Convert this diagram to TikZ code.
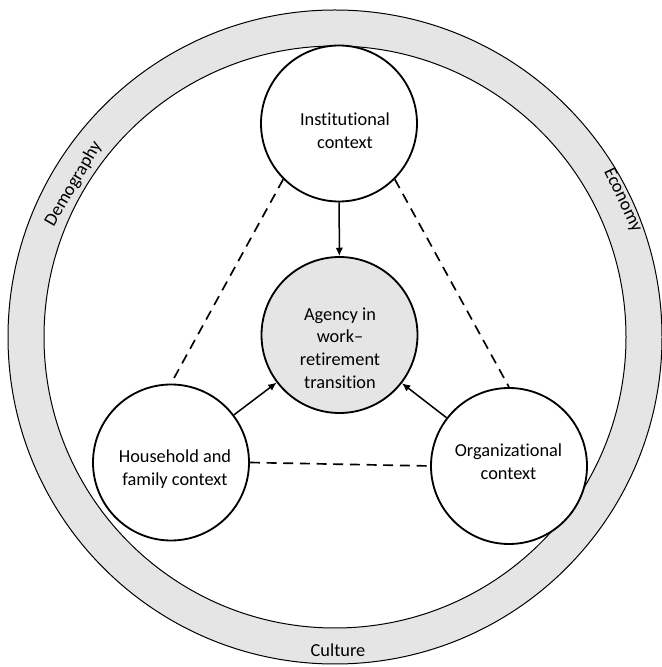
\documentclass[tikz,border=0pt]{standalone}
\usepackage{fontspec}
\setmainfont{Carlito}[Ligatures=NoCommon]
\usepackage{tikz}
\usetikzlibrary{arrows.meta}

\begin{document}
\begin{tikzpicture}[x=0.6pt,y=0.6pt]
	\tikzstyle{every node}+=[inner sep=0pt, font=\fontsize{11}{13.6}\selectfont, align=center]
	\tikzstyle{ctx}=[draw=black, circle, line width=1.1pt, fill=white, minimum size=93.6pt]
	\tikzstyle{agent}=[ctx, fill=gray!20]
	\tikzstyle{link}=[black, line width=1pt, dash pattern=on 6pt off 4pt]
	\tikzstyle{infl}=[black, line width=0.9pt, -{Latex[length=5pt,width=4.5pt]}]
	\useasboundingbox (0,0) rectangle (662,667);
	\fill [gray!20, even odd rule] (335,330) circle (327) (335,330) circle (291);
	\draw [black, line width=0.6pt] (335,330) circle (327);
	\draw [black, line width=0.6pt] (335,330) circle (291);
	\node (demo) at (73.5,483) [rotate=59.6] {Demography};
	\node (econ) at (622.5,467) [rotate=-64.5] {Economy};
	\node (cult) at (338,17) {Culture};
	\node [ctx] (inst) at (339,543.5) {};
	\node [agent] (agency) at (339.5,332) {};
	\node [ctx] (house) at (171,204.5) {};
	\node [ctx] (org) at (509,201) {};
	\node (inst-txt) at (345,536) {Institutional\\context};
	\node (agency-txt) at (340,319) {Agency in\\work--\\retirement\\transition};
	\node (house-txt) at (175,198) {Household and\\family context};
	\node (org-txt) at (508.5,205.5) {Organizational\\context};
	\draw [link] (inst.south west) -- (house.north);
	\draw [link] (inst.south east) -- (org.north);
	\draw [link] (house.east) -- (org.west);
	\draw [infl] (inst) -- (agency);
	\draw [infl] (house) -- (agency);
	\draw [infl] (org) -- (agency);
\end{tikzpicture}
\end{document}
